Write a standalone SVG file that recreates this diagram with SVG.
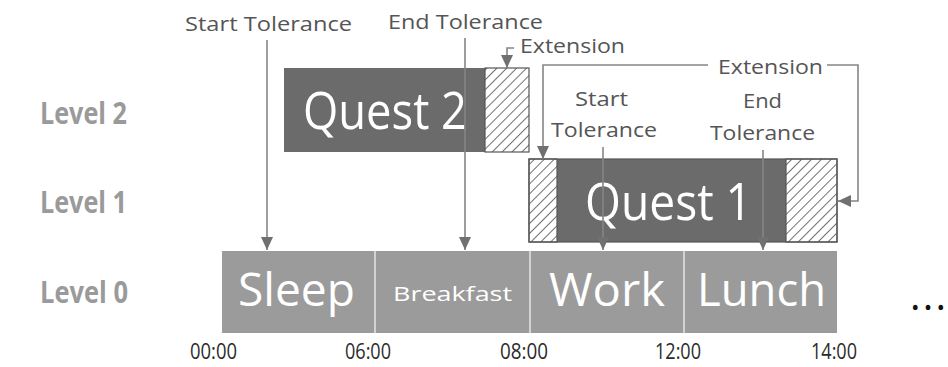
<svg xmlns="http://www.w3.org/2000/svg" width="948" height="367" viewBox="0 0 948 367">
  <style>
    .lbl { font-family: "Open Sans", "Noto Sans", "Liberation Sans", sans-serif; fill: #555555; font-size: 20px; }
    .lvl { font-family: "Open Sans", "Noto Sans", "Liberation Sans", sans-serif; fill: #9a9a9a; font-size: 30px; font-weight: bold; }
    .time { font-family: "Open Sans", "Noto Sans", "Liberation Sans", sans-serif; fill: #2a2a2a; font-size: 21px; }
    .big { font-family: "Open Sans", "Noto Sans", "Liberation Sans", sans-serif; fill: #ffffff; font-size: 52px; }
    .mid { font-family: "Open Sans", "Noto Sans", "Liberation Sans", sans-serif; fill: #ffffff; font-size: 45px; }
    .small { font-family: "Open Sans", "Noto Sans", "Liberation Sans", sans-serif; fill: #ffffff; font-size: 20px; }
    .quest { fill: #6b6b6b; }
    .hatch { fill: url(#hatch); stroke: #555555; stroke-width: 1.2; }
    .outline { fill: none; stroke: #555555; stroke-width: 1.2; }
    .task { fill: #9b9b9b; }
    .sep { stroke: #d2d2d2; stroke-width: 2; }
    .conn { fill: none; stroke: #858585; stroke-width: 1.6; }
  </style>
  <defs>
    <pattern id="hatch" patternUnits="userSpaceOnUse" width="7" height="7" patternTransform="rotate(45)">
      <rect width="7" height="7" fill="#ffffff"/>
      <line x1="0" y1="0" x2="0" y2="7" stroke="#333333" stroke-width="1.4"/>
    </pattern>
    <marker id="arrow" markerUnits="userSpaceOnUse" markerWidth="14" markerHeight="14" refX="13" refY="6" orient="auto">
      <path d="M0,0 L13,6 L0,12 Z" fill="#707070"/>
    </marker>
  </defs>

  <!-- level captions -->
  <g id="levels">
    <text class="lvl" x="40" y="124" textLength="87" lengthAdjust="spacingAndGlyphs">Level 2</text>
    <text class="lvl" x="40" y="213" textLength="87" lengthAdjust="spacingAndGlyphs">Level 1</text>
    <text class="lvl" x="40" y="303" textLength="88" lengthAdjust="spacingAndGlyphs">Level 0</text>
  </g>

  <!-- level 0: daily routine -->
  <g id="sleep">
    <rect class="task" x="222" y="251" width="153" height="82"/>
    <text class="mid" x="238" y="306" textLength="117" lengthAdjust="spacingAndGlyphs">Sleep</text>
  </g>
  <g id="breakfast">
    <rect class="task" x="375" y="251" width="155" height="82"/>
    <text class="small" x="393" y="301" textLength="119" lengthAdjust="spacingAndGlyphs">Breakfast</text>
  </g>
  <g id="work">
    <rect class="task" x="530" y="251" width="154" height="82"/>
    <text class="mid" x="549" y="306" textLength="116" lengthAdjust="spacingAndGlyphs">Work</text>
  </g>
  <g id="lunch">
    <rect class="task" x="684" y="251" width="153" height="82"/>
    <text class="mid" x="697" y="306" textLength="129" lengthAdjust="spacingAndGlyphs">Lunch</text>
  </g>
  <g id="separators">
    <line class="sep" x1="375" y1="251" x2="375" y2="333"/>
    <line class="sep" x1="530" y1="251" x2="530" y2="333"/>
    <line class="sep" x1="684" y1="251" x2="684" y2="333"/>
  </g>

  <!-- level 2 -->
  <g id="quest2">
    <rect class="quest" x="284" y="68" width="201" height="84"/>
    <rect class="hatch" x="485" y="68" width="44" height="84"/>
    <text class="big" x="303" y="129" textLength="164" lengthAdjust="spacingAndGlyphs">Quest 2</text>
  </g>

  <!-- level 1 -->
  <g id="quest1">
    <rect class="quest" x="557" y="159" width="229" height="83"/>
    <rect class="hatch" x="529" y="159" width="28" height="83"/>
    <rect class="hatch" x="786" y="159" width="51" height="83"/>
    <rect class="outline" x="529" y="159" width="308" height="83"/>
    <text class="big" x="585" y="220" textLength="167" lengthAdjust="spacingAndGlyphs">Quest 1</text>
  </g>

  <!-- annotation labels -->
  <g id="annotations">
    <text class="lbl" x="185" y="31" textLength="167" lengthAdjust="spacingAndGlyphs">Start Tolerance</text>
    <text class="lbl" x="388" y="29" textLength="155" lengthAdjust="spacingAndGlyphs">End Tolerance</text>
    <text class="lbl" x="520" y="53" textLength="105" lengthAdjust="spacingAndGlyphs">Extension</text>
    <text class="lbl" x="718" y="74" textLength="105" lengthAdjust="spacingAndGlyphs">Extension</text>
    <text class="lbl" x="575" y="106" textLength="53" lengthAdjust="spacingAndGlyphs">Start</text>
    <text class="lbl" x="551" y="137" textLength="106" lengthAdjust="spacingAndGlyphs">Tolerance</text>
    <text class="lbl" x="743" y="108" textLength="39" lengthAdjust="spacingAndGlyphs">End</text>
    <text class="lbl" x="710" y="140" textLength="105" lengthAdjust="spacingAndGlyphs">Tolerance</text>
  </g>

  <!-- connectors -->
  <g id="connectors">
    <path class="conn" d="M267,40 V250" marker-end="url(#arrow)"/>
    <path class="conn" d="M465,38 V250" marker-end="url(#arrow)"/>
    <path class="conn" d="M603,147 V250" marker-end="url(#arrow)"/>
    <path class="conn" d="M763,150 V250" marker-end="url(#arrow)"/>
    <path class="conn" d="M514,48 H507 V68" marker-end="url(#arrow)"/>
    <path class="conn" d="M708,65 H543 V159" marker-end="url(#arrow)"/>
    <path class="conn" d="M827,65 H858 V201 H838" marker-end="url(#arrow)"/>
  </g>

  <!-- time axis -->
  <g id="axis">
    <text class="time" x="190" y="359" textLength="47" lengthAdjust="spacingAndGlyphs">00:00</text>
    <text class="time" x="345" y="359" textLength="46" lengthAdjust="spacingAndGlyphs">06:00</text>
    <text class="time" x="500" y="359" textLength="48" lengthAdjust="spacingAndGlyphs">08:00</text>
    <text class="time" x="655" y="359" textLength="46" lengthAdjust="spacingAndGlyphs">12:00</text>
    <text class="time" x="811" y="359" textLength="46" lengthAdjust="spacingAndGlyphs">14:00</text>
    <text x="910" y="310" font-family="Open Sans, Liberation Sans, sans-serif" font-size="40" fill="#111111" textLength="36" lengthAdjust="spacing">...</text>
  </g>
</svg>
